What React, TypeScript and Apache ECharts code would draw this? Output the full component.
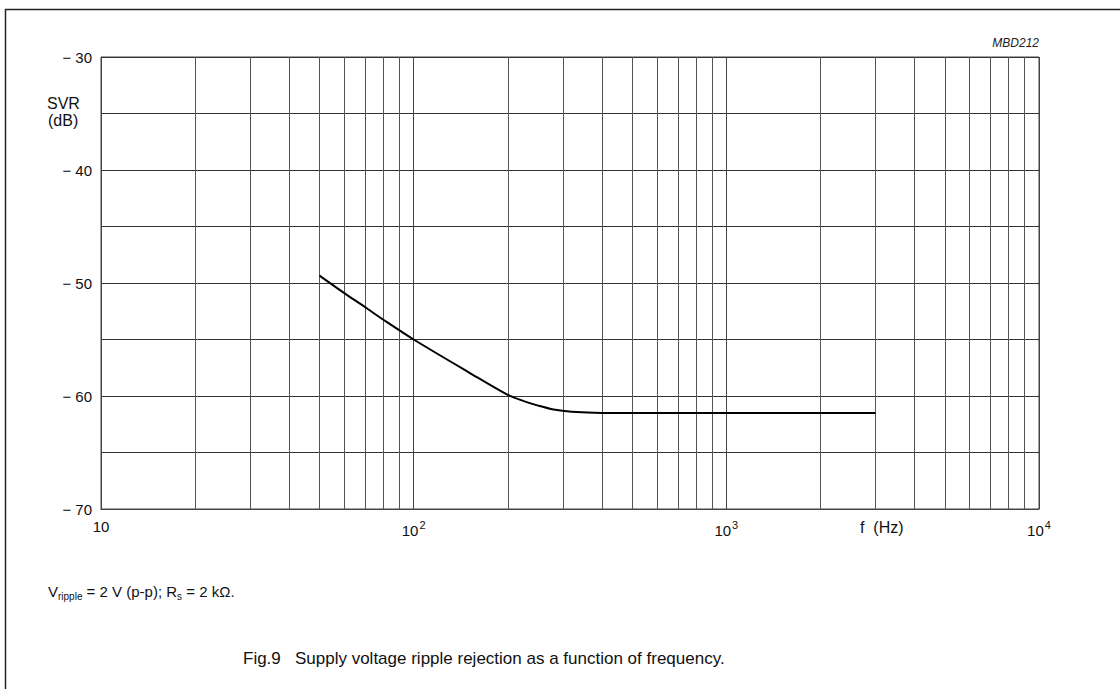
import React, { useEffect, useRef } from "react";
import * as echarts from "echarts";

const freqHz = [50, 60, 70, 80, 100, 150, 200, 225, 250, 280, 320, 400, 500, 1000, 2000, 3000];
const svrDb = [-49.35, -50.9, -52.15, -53.25, -55.0, -57.9, -59.9, -60.45, -60.85, -61.2, -61.4, -61.5, -61.5, -61.5, -61.5, -61.5];
const minorGridHz = [
  20, 30, 40, 50, 60, 70, 80, 90,
  200, 300, 400, 500, 600, 700, 800, 900,
  2000, 3000, 4000, 5000, 6000, 7000, 8000, 9000,
];
const yTickLabels = [-70, -60, -50, -40, -30];

const FONT = "'Liberation Sans', Arial, Helvetica, sans-serif";

export default function App() {
  const ref = useRef<HTMLDivElement>(null);
  useEffect(() => {
    if (!ref.current) return;
    const chart = echarts.init(ref.current, undefined, { renderer: "svg" });
    const option: any = {
      animation: false,
      backgroundColor: "#ffffff",
      grid: {
        left: 101,
        right: 81,
        top: 57,
        bottom: 180,
        show: true,
        borderColor: "#444",
        borderWidth: 1,
        backgroundColor: "transparent",
      },
      xAxis: {
        type: "log",
        logBase: 10,
        min: 10,
        max: 10000,
        axisLine: { show: true, lineStyle: { color: "#444", width: 1 } },
        axisTick: { show: false },
        splitLine: { show: true, lineStyle: { color: "#444", width: 1 } },
        axisLabel: {
          margin: 10,
          color: "#111",
          fontFamily: FONT,
          fontSize: 15,
          formatter: (v: number) => {
            const e = Math.round(Math.log10(v));
            if (e === 1) return "{n|10}";
            return "{n|10}{s|" + e + "}";
          },
          rich: {
            n: { fontSize: 15, fontFamily: FONT, color: "#111" },
            s: { fontSize: 11, fontFamily: FONT, color: "#111", padding: [0, 0, 11, 1] },
          },
        },
      },
      yAxis: {
        type: "value",
        min: -70,
        max: -30,
        interval: 5,
        axisLine: { show: true, lineStyle: { color: "#444", width: 1 } },
        axisTick: { show: false },
        splitLine: { show: true, lineStyle: { color: "#333", width: 1 } },
        axisLabel: {
          margin: 9,
          color: "#111",
          fontFamily: FONT,
          fontSize: 15,
          formatter: (v: number) =>
            yTickLabels.indexOf(v) >= 0 ? "\u2212 " + Math.abs(v) : "",
        },
      },
      series: [
        {
          type: "line",
          data: freqHz.map((f, i) => [f, svrDb[i]]),
          showSymbol: false,
          smooth: 0.3,
          lineStyle: { color: "#000", width: 2 },
          z: 5,
          markLine: {
            silent: true,
            symbol: ["none", "none"],
            label: { show: false },
            lineStyle: { color: "#555", width: 1, type: "solid" },
            data: minorGridHz.map((f) => ({ xAxis: f })),
            z: 1,
          },
        },
      ],
      graphic: [
        { type: "line", shape: { x1: 5, y1: 9.5, x2: 1120, y2: 9.5 }, style: { stroke: "#222", lineWidth: 1.5 } },
        { type: "line", shape: { x1: 5.5, y1: 9, x2: 5.5, y2: 689 }, style: { stroke: "#222", lineWidth: 1.5 } },
        {
          type: "text",
          right: 81,
          top: 37,
          style: { text: "MBD212", font: "italic 12px " + FONT, fill: "#222" },
        },
        {
          type: "text",
          left: 47,
          top: 95,
          style: { text: "SVR", font: "16px " + FONT, fill: "#111" },
        },
        {
          type: "text",
          left: 48,
          top: 112,
          style: { text: "(dB)", font: "16px " + FONT, fill: "#111" },
        },
        {
          type: "text",
          left: 860,
          top: 519,
          style: { text: "f  (Hz)", font: "16px " + FONT, fill: "#111" },
        },
        {
          type: "text",
          left: 48,
          top: 584,
          style: {
            text: "{v|V}{sub|ripple}{t| = 2 V (p-p); R}{sub|s}{t| = 2 k\u03A9.}",
            rich: {
              v: { font: "15px " + FONT, fill: "#111" },
              t: { font: "15px " + FONT, fill: "#111" },
              sub: { font: "10px " + FONT, fill: "#111", padding: [9, 0, 0, 0] },
            },
          },
        },
        {
          type: "text",
          left: 243,
          top: 650,
          style: {
            text: "Fig.9   Supply voltage ripple rejection as a function of frequency.",
            font: "17px " + FONT,
            fill: "#111",
          },
        },
      ],
    };
    chart.setOption(option);
    return () => chart.dispose();
  }, []);
  return (
    <div
      ref={ref}
      style={{ position: "fixed", left: 0, top: 0, width: 1120, height: 689, background: "#fff" }}
    />
  );
}
